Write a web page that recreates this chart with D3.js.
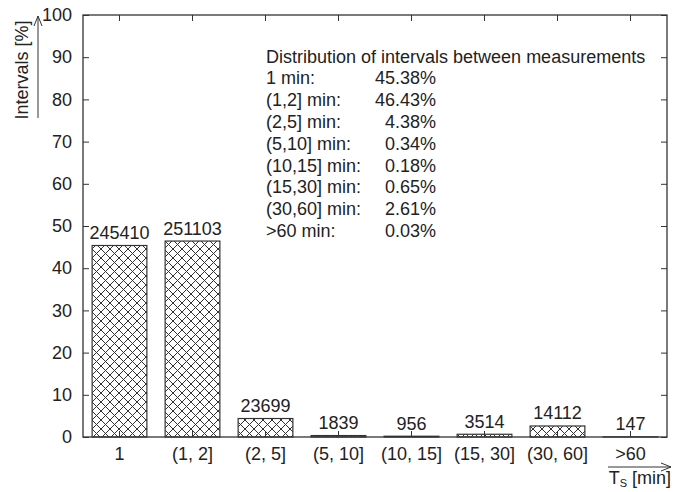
<!DOCTYPE html>
<html>
<head>
<meta charset="utf-8">
<script src="https://cdn.jsdelivr.net/npm/d3@7"></script>
<style>
  body { margin: 0; background: #fff; }
  svg text { font-family: "Liberation Sans", Arial, sans-serif; fill: #222; }
</style>
</head>
<body>
<div id="chart"></div>
<script>
// Category labels on the x axis
const categories = ["1", "(1, 2]", "(2, 5]", "(5, 10]", "(10, 15]", "(15, 30]", "(30, 60]", ">60"];
// Share of intervals in each bin [%]
const percents = [45.38, 46.43, 4.38, 0.34, 0.18, 0.65, 2.61, 0.03];
// Number of intervals in each bin
const counts = [245410, 251103, 23699, 1839, 956, 3514, 14112, 147];
// Legend text block
const legendTitle = "Distribution of intervals between measurements";
const legendLabels = ["1 min:", "(1,2] min:", "(2,5] min:", "(5,10] min:", "(10,15] min:", "(15,30] min:", "(30,60] min:", ">60 min:"];
const legendValues = ["45.38%", "46.43%", "4.38%", "0.34%", "0.18%", "0.65%", "2.61%", "0.03%"];
const yTicks = [0, 10, 20, 30, 40, 50, 60, 70, 80, 90, 100];

const width = 674, height = 492;
const margin = { top: 15, right: 7, bottom: 55, left: 83 };
const innerW = width - margin.left - margin.right;
const innerH = height - margin.top - margin.bottom;
const lineColor = "#333";
const fontSize = 18;

const svg = d3.select("#chart").append("svg")
  .attr("width", width)
  .attr("height", height);

// Cross-hatch fill used by the bars
const defs = svg.append("defs");
const pat = defs.append("pattern")
  .attr("id", "hatch")
  .attr("patternUnits", "userSpaceOnUse")
  .attr("width", 9)
  .attr("height", 9);
pat.append("rect").attr("width", 9).attr("height", 9).attr("fill", "#fff");
pat.append("path")
  .attr("d", "M0,0L9,9M9,0L0,9M-1,8L1,10M8,-1L10,1M-1,1L1,-1M8,10L10,8")
  .attr("stroke", lineColor)
  .attr("stroke-width", 1);

const chart = svg.append("g")
  .attr("transform", `translate(${margin.left},${margin.top})`);

const x = d3.scaleBand()
  .domain(categories)
  .range([0, innerW])
  .paddingInner(0.25)
  .paddingOuter(0.125);

const y = d3.scaleLinear()
  .domain([0, 100])
  .range([innerH, 0]);

// Bars
chart.selectAll("rect.bar")
  .data(categories)
  .join("rect")
  .attr("class", "bar")
  .attr("x", d => x(d))
  .attr("y", (d, i) => y(percents[i]))
  .attr("width", x.bandwidth())
  .attr("height", (d, i) => innerH - y(percents[i]))
  .attr("fill", "url(#hatch)")
  .attr("stroke", lineColor)
  .attr("stroke-width", 1.2);

// Count labels above bars
chart.selectAll("text.count")
  .data(categories)
  .join("text")
  .attr("class", "count")
  .attr("x", d => x(d) + x.bandwidth() / 2)
  .attr("y", (d, i) => y(percents[i]) - 6.5)
  .attr("text-anchor", "middle")
  .attr("font-size", fontSize)
  .text((d, i) => counts[i]);

// Axes, ticks drawn inward like the original plot
const styleAxis = g => {
  g.select(".domain").remove();
  g.selectAll(".tick line").attr("stroke", lineColor).attr("stroke-width", 1);
  g.selectAll(".tick text").attr("font-size", fontSize).attr("fill", "#222");
};

chart.append("g")
  .attr("transform", `translate(0,${innerH})`)
  .call(d3.axisBottom(x).tickSizeInner(-6).tickSizeOuter(0).tickPadding(10))
  .call(styleAxis);

chart.append("g")
  .call(d3.axisTop(x).tickSizeInner(-6).tickSizeOuter(0).tickFormat(""))
  .call(styleAxis);

chart.append("g")
  .call(d3.axisLeft(y).tickValues(yTicks).tickSizeInner(-6).tickSizeOuter(0).tickPadding(11))
  .call(styleAxis);

chart.append("g")
  .attr("transform", `translate(${innerW},0)`)
  .call(d3.axisRight(y).tickValues(yTicks).tickSizeInner(-6).tickSizeOuter(0).tickFormat(""))
  .call(styleAxis);

// Frame
chart.append("rect")
  .attr("width", innerW)
  .attr("height", innerH)
  .attr("fill", "none")
  .attr("stroke", lineColor)
  .attr("stroke-width", 1.3);

// Legend text block
const legend = chart.append("g").attr("transform", "translate(183,47.5)");
legend.append("text")
  .attr("font-size", fontSize)
  .text(legendTitle);
legendLabels.forEach((lab, i) => {
  legend.append("text")
    .attr("y", 21.8 * (i + 1))
    .attr("font-size", fontSize)
    .text(lab);
  legend.append("text")
    .attr("x", 170)
    .attr("y", 21.8 * (i + 1))
    .attr("text-anchor", "end")
    .attr("font-size", fontSize)
    .text(legendValues[i]);
});

// Arrow markers for axis titles
defs.append("marker")
  .attr("id", "arrow")
  .attr("viewBox", "0 0 10 10")
  .attr("refX", 10).attr("refY", 5)
  .attr("markerWidth", 10).attr("markerHeight", 10)
  .attr("markerUnits", "userSpaceOnUse")
  .attr("orient", "auto")
  .append("path")
  .attr("d", "M0,1L10,5L0,9")
  .attr("fill", "none")
  .attr("stroke", lineColor)
  .attr("stroke-width", 1);

// Y axis title with arrow
svg.append("text")
  .attr("transform", "translate(28,70) rotate(-90)")
  .attr("text-anchor", "middle")
  .attr("font-size", fontSize)
  .text("Intervals [%]");
svg.append("line")
  .attr("x1", 38).attr("x2", 38)
  .attr("y1", 118).attr("y2", 16)
  .attr("stroke", lineColor)
  .attr("marker-end", "url(#arrow)");

// X axis title with arrow
svg.append("line")
  .attr("x1", 608).attr("x2", 671)
  .attr("y1", 467).attr("y2", 467)
  .attr("stroke", lineColor)
  .attr("marker-end", "url(#arrow)");
const xt = svg.append("text")
  .attr("x", 671).attr("y", 484)
  .attr("text-anchor", "end")
  .attr("font-size", fontSize);
xt.append("tspan").text("T");
xt.append("tspan").attr("font-size", 11).attr("dy", 3).text("S");
xt.append("tspan").attr("dy", -3).text(" [min]");
</script>
</body>
</html>
